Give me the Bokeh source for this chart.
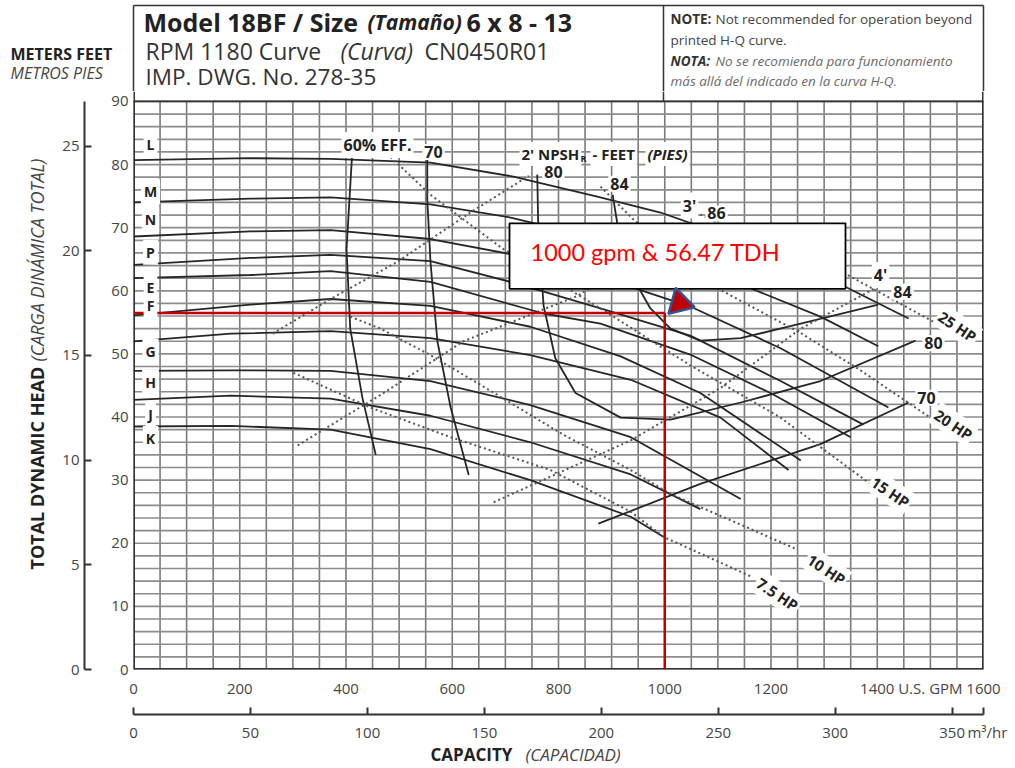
from math import pi
from bokeh.plotting import figure
from bokeh.layouts import column, row
from bokeh.models import Label, LinearAxis, Range1d, FixedTicker
from bokeh.core.properties import value
from bokeh.embed import file_html
from bokeh.resources import INLINE

# ---------------- data (U.S. GPM, feet) ----------------
imp_labels = ["L", "M", "N", "P", "E", "F", "G", "H", "J", "K"]

L_q = [0, 220, 371, 559, 715, 873, 992, 1161, 1336, 1459]
L_h = [80.7, 81.0, 80.9, 80.3, 78.1, 74.9, 72.4, 67.4, 60.8, 55.6]
M_q = [0, 220, 371, 559, 710, 879, 1048, 1156, 1293, 1402]
M_h = [74.0, 74.6, 74.8, 73.7, 71.6, 68.2, 63.8, 60.6, 55.9, 51.2]
N_q = [0, 220, 371, 559, 710, 879, 1048, 1218, 1421]
N_h = [68.6, 69.4, 69.6, 68.2, 65.8, 62.2, 57.5, 50.9, 41.5]
P_q = [0, 220, 371, 559, 710, 879, 1048, 1218, 1374]
P_h = [64.1, 65.2, 65.7, 64.7, 61.4, 57.2, 52.9, 45.7, 38.8]
E_q = [0, 220, 371, 559, 772, 879, 1048, 1199, 1350]
E_h = [62.0, 62.5, 63.1, 61.4, 56.4, 54.8, 49.9, 43.8, 36.8]
F_q = [0, 220, 371, 559, 747, 917, 1067, 1256]
F_h = [56.1, 57.8, 58.7, 57.6, 54.3, 49.6, 43.8, 33.1]
G_q = [0, 183, 371, 559, 747, 936, 1105, 1233]
G_h = [52.0, 53.2, 53.6, 52.5, 49.8, 45.9, 39.9, 31.6]
H_q = [0, 183, 371, 559, 747, 936, 1143]
H_h = [47.3, 47.4, 47.3, 45.7, 41.9, 36.8, 27.0]
J_q = [0, 183, 371, 559, 747, 936, 1067]
J_h = [42.7, 43.4, 42.9, 40.2, 36.0, 30.9, 25.4]
K_q = [0, 183, 371, 559, 747, 936, 998]
K_h = [38.5, 38.6, 38.0, 34.9, 30.0, 24.2, 21.0]
# heads (ft) where the impeller letters sit at the left edge
imp_label_h = [83.1, 75.7, 71.3, 66.1, 60.5, 57.6, 50.4, 45.5, 40.4, 36.6]

# efficiency contours
eff60_q = [412, 401, 408, 431, 456]
eff60_h = [82.3, 66.6, 54.0, 43.0, 34.0]
eff70a_q = [553, 553, 559, 572, 597, 631]
eff70a_h = [82.0, 74.5, 64.6, 52.0, 41.5, 30.8]
eff70b_q = [875, 1067, 1293, 1459]
eff70b_h = [23.1, 29.4, 35.7, 42.3]
eff80_q = [760, 762, 772, 794, 832, 917, 1011, 1143, 1293, 1472]
eff80_h = [78.4, 69.7, 57.6, 49.3, 43.8, 39.9, 39.6, 42.3, 45.7, 52.1]
eff84_q = [902, 911, 936, 973, 1011, 1067, 1143, 1256, 1402]
eff84_h = [75.2, 70.5, 62.7, 57.2, 54.0, 52.1, 52.5, 54.8, 57.8]

# NPSHr lines (dotted)
npsh2_q = [262, 371, 497, 634, 744]
npsh2_h = [53.2, 58.7, 64.6, 72.4, 78.2]
npsh3_q = [309, 465, 621, 836, 1048]
npsh3_h = [35.5, 43.5, 52.0, 59.2, 71.0]
npsh4_q = [678, 936, 1105, 1256, 1400]
npsh4_h = [26.5, 36.3, 44.6, 54.0, 60.6]

# horsepower lines (dotted)
hp7_q = [301, 446, 597, 785, 936, 998, 1161]
hp7_h = [47.0, 41.5, 36.8, 31.6, 25.0, 21.0, 14.8]
hp10_q = [408, 465, 559, 685, 809, 936, 1011, 1250]
hp10_h = [55.9, 54.0, 49.8, 43.5, 37.2, 31.6, 27.8, 19.0]
hp15_q = [484, 559, 696, 879, 1048, 1218, 1387]
hp15_h = [81.2, 75.2, 66.6, 57.2, 48.2, 39.9, 29.4]
hp20_q = [879, 941, 1099, 1256, 1363, 1500]
hp20_h = [76.5, 71.3, 60.4, 53.3, 47.7, 39.9]
hp25_q = [1067, 1199, 1340, 1510]
hp25_h = [72.1, 66.6, 62.7, 54.9]

# axis ticks
ft_ticks = [0, 10, 20, 30, 40, 50, 60, 70, 80, 90]
m_ticks = [0, 5, 10, 15, 20, 25]
gpm_ticks = [0, 200, 400, 600, 800, 1000, 1200, 1400, 1500, 1600]
gpm_unit_tick = 1500
m3_ticks = [0, 50, 100, 150, 200, 250, 300, 350, 363.4]
m3_unit_tick = 363.4

# duty point annotation
duty_q = [1000]
duty_h = [56.47]
duty_text = "1000 gpm & 56.47 TDH"

# ---------------- layout (page pixels) ----------------
W, Hgt = 1015, 768
FL, FR, FB, F90 = 133, 983, 674, 101     # plot frame edges / 90 ft line
TOP_H = 91                               # header band height
LEFT_W = 50                              # left title band width
BOT_H = 24                               # bottom title band height
MAIN_H = Hgt - TOP_H - BOT_H
QMAX = 1600
PPF = (FB - F90) / 90.0                  # px per foot
HMAX = (FB - TOP_H) / PPF
PPM = 21.12                              # px per metre on the printed metre scale
M3_END = m3_unit_tick

FONT = "Open Sans"
INK = "#222222"
TCOL = "#454545"


def X(px):
    return (px - FL) * QMAX / (FR - FL)


def Y(py):
    return (FB - py) / PPF


def band(width, height, yr):
    f = figure(width=width, height=height, x_range=Range1d(0, width), y_range=yr,
               output_backend="svg", toolbar_location=None,
               x_axis_location=None, y_axis_location=None, min_border=0)
    f.xgrid.visible = False
    f.ygrid.visible = False
    f.outline_line_color = None
    f.background_fill_color = "white"
    f.border_fill_color = "white"
    return f


def ptxt(f, text, x, y, size, style="normal", color=INK, align="left", angle=0.0, font=FONT):
    f.text(x=[x], y=[y], text=[text], text_font=value(font), text_font_size=value(f"{size}px"),
           text_font_style=value(style), text_color=color, text_align=align,
           text_baseline="middle", angle=angle)


# ---------------- header band ----------------
T = band(W, TOP_H, Range1d(TOP_H, 0))
T.segment(x0=[FL, FL, FR, 663], y0=[5, 5, 5, 5], x1=[FR, FL, FR, 663], y1=[5, TOP_H, TOP_H, TOP_H],
          line_color="#333333", line_width=1.5)
ptxt(T, "Model 18BF / Size", 143, 21, 25, "bold")
ptxt(T, "(Tamaño)", 367, 21, 21, "bold italic")
ptxt(T, "6 x 8 - 13", 466, 21, 25, "bold")
ptxt(T, "RPM 1180 Curve", 145, 50, 23, color="#333333")
ptxt(T, "(Curva)", 340, 50, 23, "italic", color="#333333")
ptxt(T, "CN0450R01", 424, 50, 23, color="#333333")
ptxt(T, "IMP. DWG. No. 278-35", 145, 76, 22.5, color="#333333")
ptxt(T, "NOTE:", 670, 18, 13.5, "bold", color="#333333")
ptxt(T, "Not recommended for operation beyond", 715, 18, 13.5, color="#444444")
ptxt(T, "printed H-Q curve.", 670, 39, 13.5, color="#444444")
ptxt(T, "NOTA:", 670, 60, 13.5, "bold italic", color="#333333")
ptxt(T, "No se recomienda para funcionamiento", 715, 60, 13.5, "italic", color="#6a6a6a")
ptxt(T, "más allá del indicado en la curva H-Q.", 670, 80, 13.5, "italic", color="#6a6a6a")
ptxt(T, "METERS FEET", 10, 53, 16, "bold")
ptxt(T, "METROS PIES", 10, 72, 16, "italic", color="#444444")

# ---------------- left title band ----------------
Lf = band(LEFT_W, MAIN_H, Range1d(TOP_H + MAIN_H, TOP_H))
ptxt(Lf, "TOTAL DYNAMIC HEAD", 36, 631, 18, "bold", angle=pi / 2)
ptxt(Lf, "(CARGA DINÁMICA TOTAL)", 36, 396, 18, "italic", color="#444444", angle=pi / 2)

# ---------------- bottom title band ----------------
B = band(W, BOT_H, Range1d(Hgt, Hgt - BOT_H))
ptxt(B, "CAPACITY", 430, 754, 17, "bold")
ptxt(B, "(CAPACIDAD)", 525, 754, 17, "italic", color="#444444")

# ---------------- main chart ----------------
p = figure(width=W - LEFT_W, height=MAIN_H, x_range=Range1d(0, QMAX), y_range=Range1d(0, HMAX),
           output_backend="svg", toolbar_location=None,
           min_border_left=FL - LEFT_W, min_border_right=W - FR, min_border_top=0,
           min_border_bottom=TOP_H + MAIN_H - FB)
p.xgrid.visible = False
p.ygrid.visible = False
p.outline_line_color = None
p.background_fill_color = "white"
p.border_fill_color = "white"
p.extra_y_ranges = {"m": Range1d(0, (FB - TOP_H) / PPM)}
p.extra_x_ranges = {"m3": Range1d(0, M3_END)}

# feet axis
ya = p.yaxis[0]
ya.ticker = FixedTicker(ticks=ft_ticks)
ya.major_tick_in = 0
ya.major_tick_out = 0
ya.minor_tick_in = 0
ya.minor_tick_out = 0
ya.axis_line_color = None
ya.major_label_standoff = 5
ya.major_label_text_font = FONT
ya.major_label_text_font_size = "15px"
ya.major_label_text_color = TCOL
ya.axis_label = " "
ya.axis_label_standoff = 4
ya.axis_label_text_font_size = "15px"

# metres axis
ma = LinearAxis(y_range_name="m", ticker=FixedTicker(ticks=m_ticks),
                bounds=(0, (FB - F90) / PPM))
ma.major_tick_in = 7
ma.major_tick_out = 0
ma.minor_tick_in = 0
ma.minor_tick_out = 0
ma.axis_line_width = 2
ma.axis_line_color = "#333333"
ma.major_tick_line_color = "#333333"
ma.major_tick_line_width = 2
ma.major_label_standoff = 5
ma.major_label_text_font = FONT
ma.major_label_text_font_size = "15px"
ma.major_label_text_color = TCOL
p.add_layout(ma, "left")

# gpm axis
xa = p.xaxis[0]
xa.ticker = FixedTicker(ticks=gpm_ticks)
xa.major_label_overrides = {gpm_unit_tick: "U.S. GPM"}
xa.major_tick_in = 0
xa.major_tick_out = 0
xa.minor_tick_in = 0
xa.minor_tick_out = 0
xa.axis_line_color = None
xa.major_label_standoff = 8
xa.major_label_text_font = FONT
xa.major_label_text_font_size = "15px"
xa.major_label_text_color = TCOL
xa.axis_label = " "
xa.axis_label_standoff = 0
xa.axis_label_text_font_size = "10px"

# m3/hr axis
m3a = LinearAxis(x_range_name="m3", ticker=FixedTicker(ticks=m3_ticks))
m3a.major_label_overrides = {m3_unit_tick: "\u00a0\u00a0m³/hr"}
m3a.major_tick_in = 7
m3a.major_tick_out = 0
m3a.minor_tick_in = 0
m3a.minor_tick_out = 0
m3a.axis_line_width = 2
m3a.axis_line_color = "#333333"
m3a.major_tick_line_color = "#333333"
m3a.major_tick_line_width = 2
m3a.major_label_standoff = 7
m3a.major_label_text_font = FONT
m3a.major_label_text_font_size = "15px"
m3a.major_label_text_color = TCOL
p.add_layout(m3a, "below")

# grid: every 50 gpm, every 2 ft
vq = list(range(0, QMAX + 1, 50))
p.segment(x0=vq, y0=[0] * len(vq), x1=vq, y1=[90] * len(vq), line_color="#7a7a7a", line_width=1.6)
hh = list(range(0, 91, 2))
p.segment(x0=[0] * len(hh), y0=hh, x1=[QMAX] * len(hh), y1=hh, line_color="#8c8c8c", line_width=1.7)
# frame + header lines
p.segment(x0=[0, QMAX, 0, 0, X(663)], y0=[0, 0, 0, 90, 90],
          x1=[0, QMAX, QMAX, QMAX, X(663)], y1=[HMAX, HMAX, 0, 90, HMAX],
          line_color="#333333", line_width=[3, 3, 3, 1.6, 1.5])

# curves
CUR = "#262626"
imp_q = [L_q, M_q, N_q, P_q, E_q, F_q, G_q, H_q, J_q, K_q]
imp_h = [L_h, M_h, N_h, P_h, E_h, F_h, G_h, H_h, J_h, K_h]
for q, h in zip(imp_q, imp_h):
    p.line(q, h, line_color=CUR, line_width=1.8)

for q, h in [(eff60_q, eff60_h), (eff70a_q, eff70a_h), (eff70b_q, eff70b_h),
             (eff80_q, eff80_h), (eff84_q, eff84_h)]:
    p.line(q, h, line_color=CUR, line_width=1.8)

DOT = "#555555"
for q, h in [(npsh2_q, npsh2_h), (npsh3_q, npsh3_h), (npsh4_q, npsh4_h),
             (hp7_q, hp7_h), (hp10_q, hp10_h), (hp15_q, hp15_h),
             (hp20_q, hp20_h), (hp25_q, hp25_h)]:
    p.line(q, h, line_color=DOT, line_width=2, line_dash="2 3")

# duty point annotation
p.quad(left=[X(509)], right=[X(845)], top=[Y(224)], bottom=[Y(290)],
       fill_color="white", line_color="black", line_width=1.8)
RED = "#c00000"
p.line([0, duty_q[0]], [duty_h[0], duty_h[0]], line_color=RED, line_width=2.5)
p.line([duty_q[0], duty_q[0]], [duty_h[0], 0], line_color=RED, line_width=2.5)
p.scatter([duty_q[0] + 28], [duty_h[0] + 1.6], marker="triangle", size=27, angle=0.25,
          fill_color=RED, line_color="#2f5597", line_width=2.5)


def lab(text, px, py, size=16, style="bold", color=INK, align="center",
        angle=0.0, bg=None, font=FONT, pad=2):
    kw = {}
    if bg:
        kw.update(background_fill_color=bg, padding=pad)
    p.add_layout(Label(x=X(px), y=Y(py), text=text, text_font=font,
                       text_font_size=f"{size}px", text_font_style=style,
                       text_color=color, text_align=align, text_baseline="middle",
                       angle=angle, **kw))


lab(duty_text, 530, 253, size=23.5, style="normal", color="#ff0000", align="left", font="Lato")

# impeller letters
for t, h in zip(imp_labels, imp_label_h):
    p.add_layout(Label(x=X(150), y=h, text=t, text_font=FONT, text_font_size="14px",
                       text_font_style="bold", text_color=INK, text_align="center",
                       text_baseline="middle", background_fill_color="white", padding=3))

# curve labels
lab("60% EFF.", 377, 145, bg="white")
lab("70", 433, 152, bg="white")
lab("80", 553, 172, bg="white")
lab("84", 619, 184, bg="white")
lab("3'", 689, 206, bg="white")
lab("86", 716, 214, bg="white")
lab("4'", 880, 276, bg="white")
lab("84", 902, 293, bg="white")
lab("80", 933, 345, bg="white")
lab("70", 926, 400, bg="white")
lab("2' NPSH", 519, 154, size=15, align="left", bg="white")
lab("R", 580, 159, size=9, align="left")
lab("- FEET", 590, 154, size=15, align="left", bg="white")
lab("(PIES)", 645, 154, size=15, style="bold italic", align="left", bg="white")

HPA = -0.59
lab("25 HP", 957, 328, size=15, angle=HPA, bg="white")
lab("20 HP", 953, 427, size=15, angle=HPA, bg="white")
lab("15 HP", 890, 495, size=15, angle=HPA, bg="white")
lab("10 HP", 826, 573, size=15, angle=HPA, bg="white")
lab("7.5 HP", 777, 598, size=15, angle=HPA, bg="white")

layout = column(T, row(Lf, p), B)
open("out.html", "w").write(file_html(layout, INLINE))
